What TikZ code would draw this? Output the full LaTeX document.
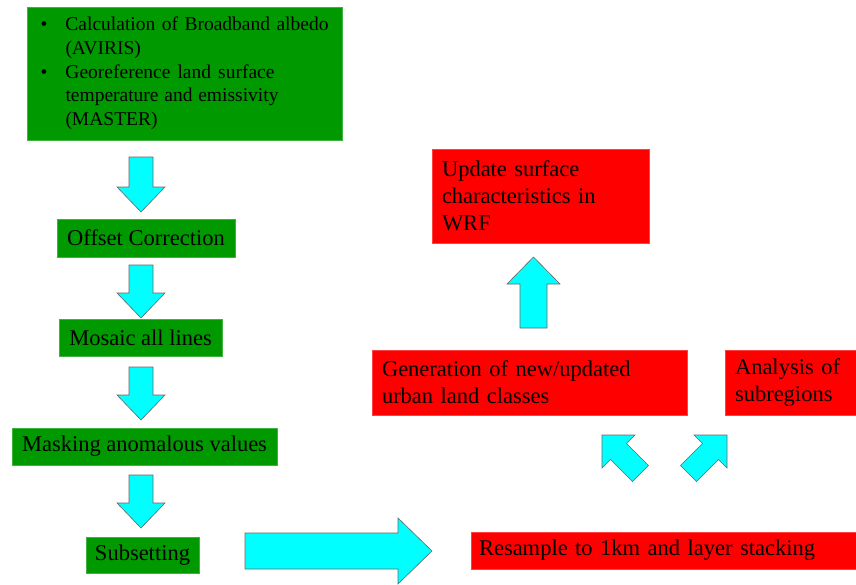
\documentclass[tikz,border=0pt]{standalone}
\usepackage{fontspec}
\setmainfont{Liberation Serif}
\usetikzlibrary{calc}
\definecolor{boxgreen}{RGB}{0,153,0}
\definecolor{boxred}{RGB}{255,0,0}
\definecolor{arrowcyan}{RGB}{0,255,255}
\tikzset{
greenbox/.style={draw=boxgreen!75!white, fill=boxgreen, inner sep=0pt, line width=0.5pt},
redbox/.style={draw=boxred!75!white, fill=boxred, inner ysep=0pt, inner xsep=10pt, align=left, line width=0.5pt},
blockarrow/.style={draw=black!60, fill=arrowcyan, line width=0.6pt, line join=miter},
}
% #1 tail, #2 tip, #3 half shaft, #4 half head, #5 head length
\newcommand{\cyanarrow}[5]{%
  \coordinate (hb) at ($(#2)!#5!(#1)$);
  \draw[blockarrow] ($(#1)!#3!90:(#2)$) -- ($(hb)!#3!90:(#2)$) -- ($(hb)!#4!90:(#2)$) -- (#2)
    -- ($(hb)!#4!-90:(#2)$) -- ($(hb)!#3!-90:(#2)$) -- ($(#1)!#3!-90:(#2)$) -- cycle;
}

\begin{document}
\begin{tikzpicture}[x=1pt, y=-1pt, font=\fontsize{22.5}{27}\selectfont]
    \useasboundingbox (0,0) rectangle (856,584);

    %left column
    \node[greenbox, minimum width=315pt, minimum height=133pt, font=\fontsize{19.5}{23.7}\selectfont] (src) at (184.5,73.5)
      {\begin{tabular}{@{}p{25pt}@{}l@{}}
       \textbullet & \makebox[263pt][s]{Calculation of Broadband albedo}\\
                   & (AVIRIS)\\
       \textbullet & \makebox[209pt][s]{Georeference land surface}\\
                   & \makebox[213pt][s]{temperature and emissivity}\\
                   & (MASTER)
       \end{tabular}};
    \node[greenbox, minimum width=178pt, minimum height=38pt] (offset)  at (146,238)   {Offset Correction};
    \node[greenbox, minimum width=163pt, minimum height=37pt] (mosaic)  at (140.5,337.5) {Mosaic all lines};
    \node[greenbox, minimum width=265pt, minimum height=37pt] (masking) at (144.5,446.5) {Masking anomalous values};
    \node[greenbox, minimum width=113pt, minimum height=36pt] (subset)  at (142.5,555)   {Subsetting};

    %right column
    \node[redbox, text width=197pt, minimum height=94pt] (update)     at (540.5,196)   {Update surface\\characteristics in\\WRF};
    \node[redbox, text width=295pt, minimum height=65pt] (generation) at (529.5,382.5) {Generation of new/updated\\urban land classes};
    \node[redbox, text width=111pt, minimum height=65pt] (analysis)   at (790.5,382.5) {\makebox[104pt][s]{Analysis of}\\subregions};
    \node[redbox, text width=369pt, inner xsep=8pt, minimum height=37pt] (resample) at (663.5,550.5) {Resample to 1km and layer stacking};

    %arrow ends
    \coordinate (d1a) at (141,157);   \coordinate (d1b) at (141,212);
    \coordinate (d2a) at (141,265);   \coordinate (d2b) at (141,318);
    \coordinate (d3a) at (141,367);   \coordinate (d3b) at (141,420);
    \coordinate (d4a) at (141,475);   \coordinate (d4b) at (141,528);
    \coordinate (ra)  at (245,551);   \coordinate (rb)  at (432,551);
    \coordinate (la)  at (640.5,473.5); \coordinate (lb) at (602,435);
    \coordinate (ka)  at (688.5,473.5); \coordinate (kb) at (727,435);
    \coordinate (ua)  at (533.5,328); \coordinate (ub)  at (533.5,257);

    %down arrows
    \cyanarrow{d1a}{d1b}{12pt}{24pt}{25pt}
    \cyanarrow{d2a}{d2b}{12pt}{24pt}{25pt}
    \cyanarrow{d3a}{d3b}{12pt}{24pt}{25pt}
    \cyanarrow{d4a}{d4b}{12pt}{24pt}{25pt}

    %across and up
    \cyanarrow{ra}{rb}{18pt}{33pt}{34pt}
    \cyanarrow{la}{lb}{11.3pt}{23.3pt}{23.3pt}
    \cyanarrow{ka}{kb}{11.3pt}{23.3pt}{23.3pt}
    \cyanarrow{ua}{ub}{13.5pt}{26.5pt}{27pt}

\end{tikzpicture}
\end{document}
